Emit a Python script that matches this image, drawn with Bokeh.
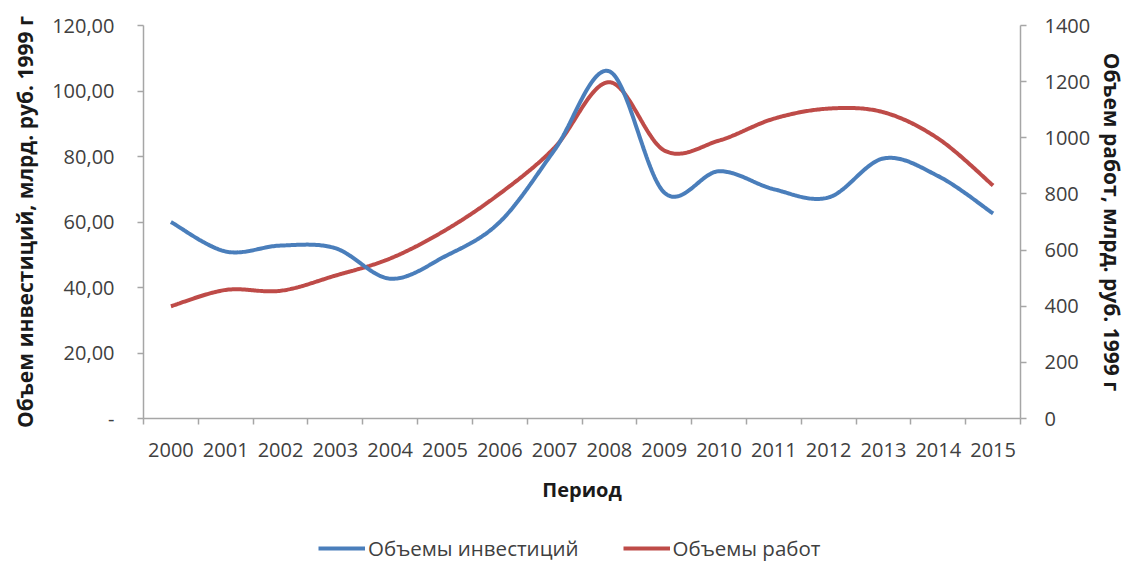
import numpy as np
from bokeh.plotting import figure
from bokeh.layouts import column
from bokeh.models import (Range1d, LinearAxis, FixedTicker, Legend, LegendItem)
from bokeh.embed import file_html
from bokeh.resources import INLINE

years = ["2000", "2001", "2002", "2003", "2004", "2005", "2006", "2007",
         "2008", "2009", "2010", "2011", "2012", "2013", "2014", "2015"]
investments = [60.0, 51.0, 52.8, 52.0, 42.7, 49.5, 60.0, 82.0,
               106.0, 69.0, 75.5, 70.0, 67.5, 79.4, 74.0, 62.6]
works = [400, 458, 455, 509, 570, 670, 801, 965,
         1198, 955, 990, 1068, 1104, 1091, 997, 830]
left_ticks = [0, 20, 40, 60, 80, 100, 120]
left_labels = ["-", "20,00", "40,00", "60,00", "80,00", "100,00", "120,00"]
right_ticks = [0, 200, 400, 600, 800, 1000, 1200, 1400]
series_names = ["Объемы инвестиций", "Объемы работ"]

FONT = "Open Sans"
LABEL_COLOR = "#404040"
AXIS_COLOR = "#a6a6a6"
BLUE = "#4a7ebb"
RED = "#be4b48"
W = 1129
LEFT = 143


def smooth(xs, ys, n=40):
    """Excel-like smoothed line: cubic Bezier segments with Catmull-Rom control points."""
    P = np.column_stack([xs, ys]).astype(float)
    m = len(P)
    out = []
    for i in range(m - 1):
        p0 = P[i]
        p3 = P[i + 1]
        pm = P[i - 1] if i > 0 else P[i]
        pp = P[i + 2] if i + 2 < m else P[i + 1]
        c1 = p0 + (p3 - pm) / 6.0
        c2 = p3 - (pp - p0) / 6.0
        t = np.linspace(0, 1, n, endpoint=(i == m - 2))[:, None]
        seg = ((1 - t) ** 3) * p0 + 3 * ((1 - t) ** 2) * t * c1 + 3 * (1 - t) * t ** 2 * c2 + t ** 3 * p3
        out.append(seg)
    arr = np.vstack(out)
    return arr[:, 0], arr[:, 1]


xpos = [i + 0.5 for i in range(len(years))]

p = figure(width=W, height=510, output_backend="svg", toolbar_location=None,
           x_range=Range1d(0, len(years)), y_range=Range1d(0, 120),
           min_border_left=LEFT, min_border_right=107, min_border_top=25,
           min_border_bottom=92, x_axis_type=None, y_axis_type=None)
p.outline_line_color = None
p.xgrid.visible = False
p.ygrid.visible = False
p.extra_y_ranges = {"right": Range1d(0, 1400)}

la = LinearAxis(ticker=FixedTicker(ticks=left_ticks),
                major_label_overrides={t: l for t, l in zip(left_ticks, left_labels)},
                axis_label="Объем инвестиций, млрд. руб. 1999 г")
ra = LinearAxis(y_range_name="right", ticker=FixedTicker(ticks=right_ticks),
                axis_label="Объем работ, млрд. руб. 1999 г")
ba = LinearAxis(ticker=FixedTicker(ticks=xpos, minor_ticks=list(range(len(years) + 1))),
                major_label_overrides={x: y for x, y in zip(xpos, years)},
                axis_label="Период")

for ax in (la, ra, ba):
    ax.axis_line_color = AXIS_COLOR
    ax.axis_line_width = 1.5
    ax.major_tick_line_color = AXIS_COLOR
    ax.minor_tick_line_color = AXIS_COLOR
    ax.major_tick_line_width = 1.5
    ax.minor_tick_line_width = 1.5
    ax.major_tick_in = 0
    ax.major_tick_out = 6
    ax.minor_tick_in = 0
    ax.minor_tick_out = 0
    ax.major_label_text_font = FONT
    ax.major_label_text_font_size = "20px"
    ax.major_label_text_color = LABEL_COLOR
    ax.axis_label_text_font = FONT
    ax.axis_label_text_font_style = "bold"
    ax.axis_label_text_font_size = "21px"
    ax.axis_label_text_color = "#1a1a1a"

ba.axis_label_text_font_size = "20px"
ba.major_tick_out = 0
ba.minor_tick_out = 6
ba.major_label_standoff = 18
ba.axis_label_standoff = 16
la.major_label_standoff = 23
la.axis_label_standoff = 10
ra.major_label_standoff = 18
ra.axis_label_standoff = 5

p.add_layout(la, "left")
p.add_layout(ra, "right")
p.add_layout(ba, "below")

bx, by = smooth(xpos, investments)
rx, ry = smooth(xpos, works)
r_red = p.line(rx, ry, line_color=RED, line_width=4, y_range_name="right")
r_blue = p.line(bx, by, line_color=BLUE, line_width=4)

# legend strip under the chart (its lines sit outside its visible y range)
lg = figure(width=W, height=52, output_backend="svg", toolbar_location=None,
            x_range=Range1d(0, len(years)), y_range=Range1d(-2, -1),
            min_border_left=0, min_border_right=0, min_border_top=0, min_border_bottom=0,
            x_axis_type=None, y_axis_type=None)
lg.outline_line_color = None
lg.xgrid.visible = False
lg.ygrid.visible = False
lb = lg.line(bx, by, line_color=BLUE, line_width=4)
lr = lg.line(rx, ry, line_color=RED, line_width=4)
legend = Legend(items=[LegendItem(label=series_names[0], renderers=[lb]),
                       LegendItem(label=series_names[1], renderers=[lr])],
                orientation="horizontal", location=(318 - LEFT, 0),
                label_text_font=FONT, label_text_font_size="20.5px",
                label_text_color=LABEL_COLOR, glyph_width=47, glyph_height=20,
                label_standoff=3, spacing=44, padding=0, margin=0,
                border_line_color=None, background_fill_alpha=0)
lg.add_layout(legend, "center")

layout = column(p, lg, spacing=0)
open("out.html", "w").write(file_html(layout, INLINE))
